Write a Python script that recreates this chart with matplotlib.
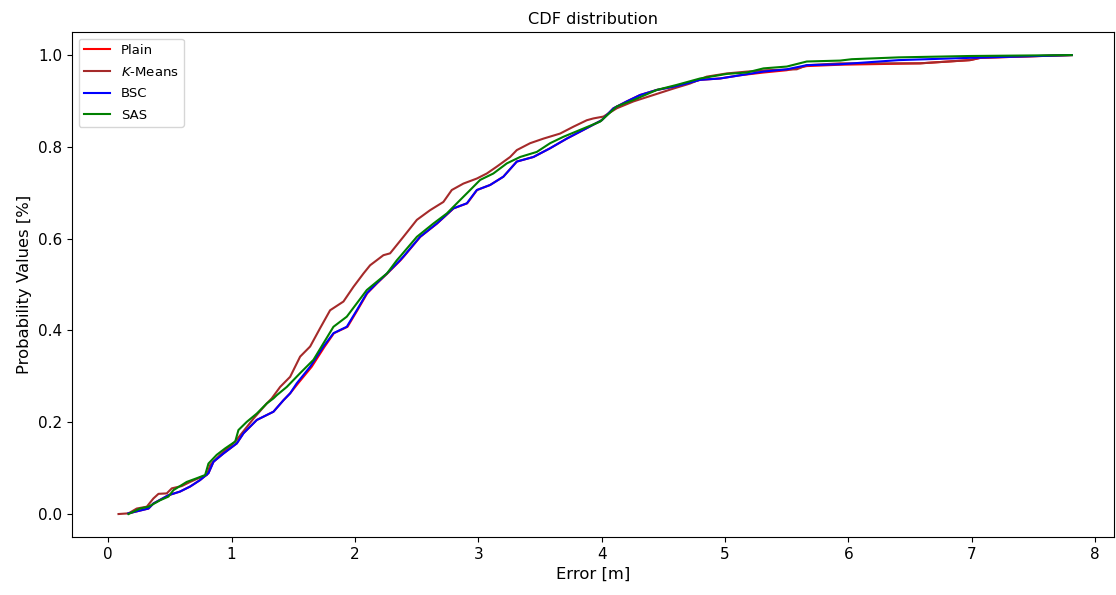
import matplotlib
matplotlib.use("Agg")
import matplotlib.pyplot as plt

# Points (error in m, cumulative probability)
kmeans_x = [0.084, 0.165, 0.232, 0.313, 0.367, 0.408, 0.475, 0.516, 0.597, 0.665, 0.732, 0.80, 0.827,
            0.908, 1.03, 1.178, 1.286, 1.326, 1.394, 1.475, 1.556, 1.637, 1.718, 1.799, 1.907, 1.988,
            2.069, 2.123, 2.231, 2.285, 2.393, 2.502, 2.609, 2.717, 2.785, 2.879, 2.988, 3.069, 3.15,
            3.258, 3.312, 3.42, 3.528, 3.663, 3.771, 3.879, 3.933, 4.014, 4.122, 4.257, 4.419, 4.581,
            4.716, 4.851, 5.014, 5.176, 5.338, 5.581, 5.662, 5.932, 6.58, 6.985, 7.07, 7.81]
kmeans_y = [0.0, 0.0015, 0.012, 0.016, 0.034, 0.044, 0.045, 0.056, 0.061, 0.070, 0.078, 0.085, 0.107,
            0.129, 0.158, 0.208, 0.241, 0.252, 0.277, 0.299, 0.343, 0.365, 0.405, 0.444, 0.463, 0.495,
            0.524, 0.542, 0.564, 0.568, 0.604, 0.641, 0.662, 0.680, 0.706, 0.720, 0.731, 0.742, 0.757,
            0.778, 0.793, 0.808, 0.818, 0.829, 0.844, 0.858, 0.862, 0.866, 0.884, 0.899, 0.913, 0.927,
            0.938, 0.953, 0.960, 0.964, 0.967, 0.969, 0.978, 0.982, 0.982, 0.989, 0.994, 1.0]

bsc_x = [0.165, 0.327, 0.367, 0.489, 0.583, 0.665, 0.745, 0.813, 0.854, 0.935, 1.043, 1.097, 1.205,
         1.34, 1.421, 1.475, 1.529, 1.637, 1.745, 1.826, 1.934, 2.015, 2.096, 2.177, 2.259, 2.366,
         2.393, 2.528, 2.664, 2.798, 2.907, 2.988, 3.096, 3.203, 3.312, 3.447, 3.582, 3.717, 3.852,
         4.0, 4.095, 4.203, 4.311, 4.446, 4.581, 4.689, 4.797, 4.959, 5.122, 5.311, 5.5, 5.662,
         5.932, 6.405, 6.985, 7.81]
bsc_y = [0.0015, 0.012, 0.023, 0.041, 0.049, 0.060, 0.074, 0.089, 0.114, 0.132, 0.154, 0.176, 0.205,
         0.223, 0.248, 0.263, 0.285, 0.321, 0.365, 0.394, 0.408, 0.444, 0.481, 0.503, 0.524, 0.553,
         0.561, 0.604, 0.633, 0.666, 0.677, 0.706, 0.717, 0.735, 0.768, 0.778, 0.797, 0.818, 0.837,
         0.858, 0.884, 0.899, 0.913, 0.924, 0.931, 0.938, 0.946, 0.949, 0.956, 0.964, 0.969, 0.978,
         0.980, 0.989, 0.994, 1.0]

plain_x = [0.165, 0.327, 0.367, 0.489, 0.583, 0.665, 0.745, 0.813, 0.854, 0.935, 1.043, 1.097, 1.205,
           1.34, 1.421, 1.475, 1.540, 1.650, 1.755, 1.830, 1.940, 2.020, 2.100, 2.180, 2.262, 2.370,
           2.396, 2.530, 2.666, 2.800, 2.910, 2.990, 3.096, 3.203, 3.312, 3.447, 3.582, 3.717, 3.852,
           4.0, 4.095, 4.203, 4.311, 4.446, 4.581, 4.689, 4.797, 4.959, 5.122, 5.311, 5.5, 5.662,
           5.932, 6.58, 6.985, 7.07, 7.81]
plain_y = [0.0015, 0.012, 0.023, 0.041, 0.049, 0.060, 0.074, 0.089, 0.114, 0.132, 0.154, 0.176, 0.205,
           0.223, 0.248, 0.263, 0.285, 0.321, 0.365, 0.394, 0.408, 0.444, 0.481, 0.503, 0.524, 0.553,
           0.561, 0.604, 0.633, 0.666, 0.677, 0.706, 0.717, 0.735, 0.768, 0.778, 0.797, 0.818, 0.837,
           0.858, 0.884, 0.899, 0.913, 0.924, 0.931, 0.938, 0.946, 0.949, 0.956, 0.962, 0.967, 0.976,
           0.979, 0.982, 0.989, 0.994, 1.0]

sas_x = [0.165, 0.259, 0.327, 0.421, 0.489, 0.529, 0.637, 0.718, 0.786, 0.813, 0.88, 0.948, 1.03,
         1.056, 1.124, 1.205, 1.286, 1.34, 1.367, 1.448, 1.556, 1.664, 1.745, 1.826, 1.934, 2.015,
         2.096, 2.177, 2.259, 2.34, 2.366, 2.502, 2.636, 2.745, 2.852, 2.934, 3.015, 3.122, 3.231,
         3.339, 3.474, 3.582, 3.69, 3.825, 3.987, 4.122, 4.257, 4.446, 4.608, 4.797, 5.014, 5.176,
         5.311, 5.5, 5.662, 5.932, 6.027, 6.405, 6.985, 7.81]
sas_y = [0.0, 0.012, 0.016, 0.030, 0.038, 0.052, 0.070, 0.078, 0.085, 0.110, 0.129, 0.143, 0.158,
         0.183, 0.201, 0.219, 0.241, 0.252, 0.259, 0.277, 0.307, 0.336, 0.372, 0.408, 0.430, 0.459,
         0.488, 0.506, 0.524, 0.553, 0.561, 0.604, 0.633, 0.655, 0.684, 0.706, 0.728, 0.742, 0.764,
         0.778, 0.789, 0.808, 0.822, 0.837, 0.855, 0.888, 0.902, 0.924, 0.935, 0.949, 0.959, 0.962,
         0.971, 0.975, 0.986, 0.988, 0.991, 0.995, 0.998, 1.0]

series = [
    ("Plain", plain_x, plain_y, "red"),
    (r"$K$-Means", kmeans_x, kmeans_y, "brown"),
    ("BSC", bsc_x, bsc_y, "blue"),
    ("SAS", sas_x, sas_y, "green"),
]

fig = plt.figure(figsize=(11.16, 5.95), dpi=100)
ax = fig.add_axes([0.0645, 0.0975, 0.9335, 0.8485])

for label, xs, ys, color in series:
    ax.plot(xs, ys, color=color, label=label, linewidth=1.5)

ax.set_xlim(-0.293, 8.15)
ax.set_title("CDF distribution", fontsize=11.6)
ax.set_xlabel("Error [m]", fontsize=11.8)
ax.set_ylabel("Probability Values [%]", fontsize=11.8)
ax.tick_params(labelsize=11)
ax.legend(loc="upper left", fontsize=9.5, labelspacing=0.65)

fig.savefig("out.png", dpi=100)
